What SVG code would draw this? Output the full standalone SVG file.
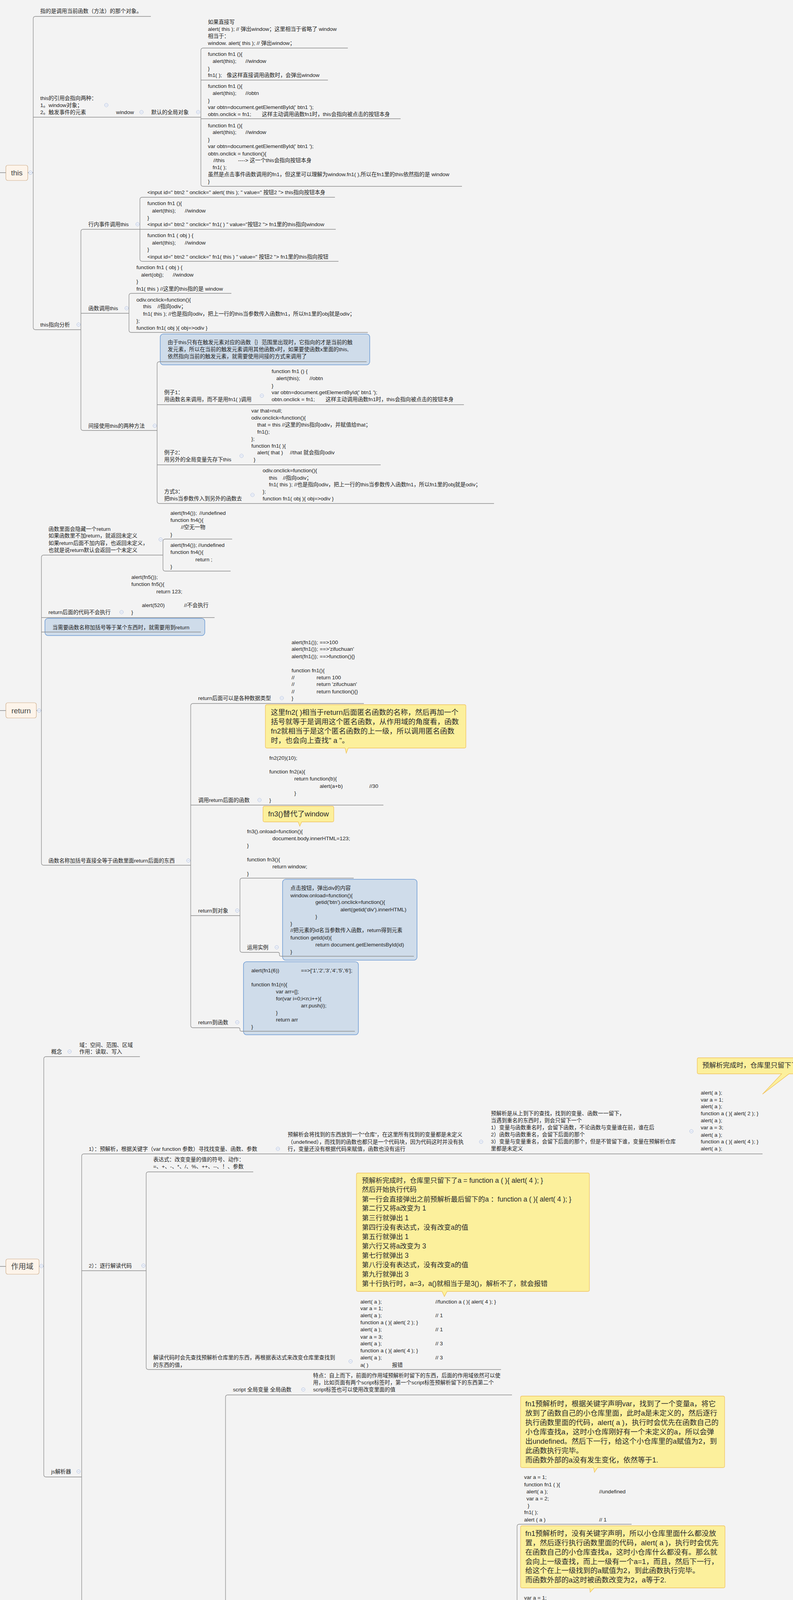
<svg xmlns="http://www.w3.org/2000/svg" width="2029" height="6266" viewBox="0 0 2029 6266">
<style>
text{font-family:"Liberation Sans","Noto Sans CJK SC",sans-serif;fill:#222}
.t{font-size:13.7px}
.cl{font-size:18.5px;fill:#2a2a2a}
.cb{font-size:17.5px;fill:#2a2a2a}
.rt{font-size:19px;fill:#444}
.ln{fill:none;stroke:#8c8c8c;stroke-width:1.3}
.root{fill:#fdf4ea;stroke:#cfae8c;stroke-width:1.2}
.blue{fill:#cfdcea;stroke:#6e9bd3;stroke-width:1.5}
.yel{fill:#fcf09c;stroke:#f0c25c;stroke-width:1.3}
.ci{fill:#f6f7fb;stroke:#a9bbdd;stroke-width:1}
.cm{stroke:#a9bbdd;stroke-width:1}
</style>
<defs>
<g id="col"><circle class="ci" r="4.5"/><line class="cm" x1="-2.5" x2="2.5" y1="0" y2="0"/></g>
</defs>
<rect width="2029" height="6266" fill="#f3f3f3"/>

<g id="n-this"><rect class="root" x="15" y="423" width="56" height="39" rx="5"/><text class="rt" x="43" y="449" text-anchor="middle">this</text></g>
<g id="n-this-def"><text class="t" x="103" y="33">指的是调用当前函数（方法）的那个对象。</text></g>
<g id="n-this-ref"><text class="t" x="103" y="256">this的引用会指向两种：</text><text class="t" x="103" y="274">1。window对象；</text><text class="t" x="103" y="292">2。触发事件的元素</text></g>
<g id="n-window"><text class="t" x="297" y="292">window</text></g>
<g id="n-global"><text class="t" x="387" y="292">默认的全局对象</text></g>
<g id="n-c1"><text class="t" x="532" y="61">如果直接写</text><text class="t" x="532" y="79">alert( this );  // 弹出window；这里相当于省略了 window</text><text class="t" x="532" y="97">相当于：</text><text class="t" x="532" y="115">window. alert( this );  // 弹出window；</text></g>
<g id="n-c2"><text class="t" x="532" y="143">function fn1 (){</text><text class="t" x="544" y="161">alert(this);</text><text class="t" x="628" y="161">//window</text><text class="t" x="532" y="180">}</text><text class="t" x="532" y="197">fn1( );</text><text class="t" x="580" y="197">像这样直接调用函数时，会弹出window</text></g>
<g id="n-c3"><text class="t" x="532" y="225">function fn1 (){</text><text class="t" x="544" y="243">alert(this);</text><text class="t" x="628" y="243">//obtn</text><text class="t" x="532" y="262">}</text><text class="t" x="532" y="279">var obtn=document.getElementById(' btn1 ');</text><text class="t" x="532" y="297">obtn.onclick = fn1;</text><text class="t" x="670" y="297">这样主动调用函数fn1时，this会指向被点击的按钮本身</text></g>
<g id="n-c4"><text class="t" x="532" y="326">function fn1 (){</text><text class="t" x="544" y="343">alert(this);</text><text class="t" x="628" y="343">//window</text><text class="t" x="532" y="362">}</text><text class="t" x="532" y="379">var obtn=document.getElementById(' btn1 ');</text><text class="t" x="532" y="398">obtn.onclick = function(){</text><text class="t" x="546" y="415">//this</text><text class="t" x="609" y="415">----&gt; 这一个this会指向按钮本身</text><text class="t" x="544" y="433">fn1( );</text><text class="t" x="532" y="451">虽然是点击事件函数调用的fn1，但这里可以理解为window.fn1( ),所以在fn1里的this依然指的是 window</text><text class="t" x="532" y="469">}</text></g>
<g id="n-analysis"><text class="t" x="103" y="836">this指向分析</text></g>
<g id="n-inline"><text class="t" x="226" y="579">行内事件调用this</text></g>
<g id="n-inline-1"><text class="t" x="377" y="497">&lt;input  id=" btn2 "  onclick=" alert( this ); " value=" 按钮2 "&gt;  this指向按钮本身</text></g>
<g id="n-inline-2"><text class="t" x="377" y="525">function fn1 (){</text><text class="t" x="389" y="544">alert(this);</text><text class="t" x="473" y="544">//window</text><text class="t" x="377" y="562">}</text><text class="t" x="377" y="579">&lt;input  id=" btn2 "  onclick=" fn1( ) " value="按钮2 "&gt;  fn1里的this指向window</text></g>
<g id="n-inline-3"><text class="t" x="377" y="607">function fn1 ( obj ) {</text><text class="t" x="389" y="626">alert(this);</text><text class="t" x="473" y="626">//window</text><text class="t" x="377" y="643">}</text><text class="t" x="377" y="662">&lt;input  id=" btn2 "  onclick=" fn1( this ) " value=" 按钮2 "&gt;  fn1里的this指向按钮</text></g>
<g id="n-fcall"><text class="t" x="226" y="794">函数调用this</text></g>
<g id="n-fcall-1"><text class="t" x="349" y="689">function fn1 ( obj ) {</text><text class="t" x="361" y="708">alert(obj);</text><text class="t" x="442" y="708">//window</text><text class="t" x="349" y="725">}</text><text class="t" x="349" y="744">fn1( this )  //这里的this指的是 window</text></g>
<g id="n-fcall-2"><text class="t" x="349" y="772">odiv.onclick=function(){</text><text class="t" x="366" y="789">this</text><text class="t" x="403" y="789">//指向odiv；</text><text class="t" x="366" y="808">fn1( this ); //也是指向odiv，把上一行的this当参数传入函数fn1，所以fn1里的obj就是odiv；</text><text class="t" x="349" y="826">};</text><text class="t" x="349" y="844">function fn1( obj ){  obj=&gt;odiv  }</text></g>
<g id="n-indirect"><text class="t" x="226" y="1095">间接使用this的两种方法</text></g>
<g id="n-indirect-note"><rect class="blue" x="410" y="855" width="536" height="79" rx="8"/><text class="t" x="429" y="881">由于this只有在触发元素对应的函数｛｝范围里出现时，它指向的才是当前的触</text><text class="t" x="429" y="899">发元素，所以在当前的触发元素调用其他函数x时，如果要使函数x里面的this,</text><text class="t" x="429" y="917">依然指向当前的触发元素，就需要使用间接的方式来调用了</text></g>
<g id="n-ex1"><text class="t" x="420" y="1009">例子1：</text><text class="t" x="420" y="1027">用函数名来调用，而不是用fn1( )调用</text></g>
<g id="n-ex1-code"><text class="t" x="695" y="955">function fn1 () {</text><text class="t" x="707" y="973">alert(this);</text><text class="t" x="792" y="973">//obtn</text><text class="t" x="695" y="992">}</text><text class="t" x="695" y="1009">var obtn=document.getElementById(' btn1 ');</text><text class="t" x="695" y="1027">obtn.onclick = fn1;</text><text class="t" x="833" y="1027">这样主动调用函数fn1时，this会指向被点击的按钮本身</text></g>
<g id="n-ex2"><text class="t" x="420" y="1163">例子2：</text><text class="t" x="420" y="1181">用另外的全局变量先存下this</text></g>
<g id="n-ex2-code"><text class="t" x="643" y="1056">var  that=null;</text><text class="t" x="643" y="1074">odiv.onclick=function(){</text><text class="t" x="658" y="1092">that = this  //这里的this指向odiv，并赋值给that；</text><text class="t" x="658" y="1110">fn1();</text><text class="t" x="643" y="1128">};</text><text class="t" x="643" y="1146">function fn1( ){</text><text class="t" x="658" y="1163">alert( that )</text><text class="t" x="742" y="1163">//that 就会指向odiv</text><text class="t" x="649" y="1181">}</text></g>
<g id="n-way3"><text class="t" x="420" y="1263">方式3：</text><text class="t" x="420" y="1281">把this当参数传入到另外的函数去</text></g>
<g id="n-way3-code"><text class="t" x="672" y="1209">odiv.onclick=function(){</text><text class="t" x="688" y="1228">this</text><text class="t" x="724" y="1228">//指向odiv；</text><text class="t" x="688" y="1245">fn1( this ); //也是指向odiv，把上一行的this当参数传入函数fn1，所以fn1里的obj就是odiv；</text><text class="t" x="672" y="1263">};</text><text class="t" x="672" y="1281">function fn1( obj ){  obj=&gt;odiv  }</text></g>

<g id="n-return"><rect class="root" x="15" y="1799" width="78" height="39" rx="5"/><text class="rt" x="54" y="1826" text-anchor="middle">return</text></g>
<g id="n-r1"><text class="t" x="124" y="1359">函数里面会隐藏一个return</text><text class="t" x="124" y="1376">如果函数里不加return，就返回未定义</text><text class="t" x="124" y="1395">如果return后面不加内容，也返回未定义，</text><text class="t" x="124" y="1413">也就是说return默认会返回一个未定义</text></g>
<g id="n-r1a"><text class="t" x="436" y="1318">alert(fn4());</text><text class="t" x="510" y="1318">//undefined</text><text class="t" x="436" y="1336">function fn4(){</text><text class="t" x="463" y="1354">//空无一物</text><text class="t" x="436" y="1373">}</text></g>
<g id="n-r1b"><text class="t" x="436" y="1400">alert(fn4());</text><text class="t" x="507" y="1400">//undefined</text><text class="t" x="436" y="1418">function fn4(){</text><text class="t" x="500" y="1437">return ;</text><text class="t" x="436" y="1455">}</text></g>
<g id="n-r2"><text class="t" x="124" y="1572">return后面的代码不会执行</text></g>
<g id="n-r2a"><text class="t" x="336" y="1482">alert(fn5());</text><text class="t" x="336" y="1500">function fn5(){</text><text class="t" x="400" y="1519">return 123;</text><text class="t" x="363" y="1554">alert(520)</text><text class="t" x="471" y="1554">//不会执行</text><text class="t" x="336" y="1572">}</text></g>
<g id="n-r3"><rect class="blue" x="115" y="1583" width="409" height="44" rx="8"/><text class="t" x="134" y="1611">当需要函数名称加括号等于某个东西时，就需要用到return</text></g>
<g id="n-r4"><text class="t" x="124" y="2208">函数名称加括号直接全等于函数里面return后面的东西</text></g>
<g id="n-r4a"><text class="t" x="507" y="1792">return后面可以是各种数据类型</text></g>
<g id="n-r4a-code"><text class="t" x="746" y="1649">alert(fn1());</text><text class="t" x="818" y="1649">==&gt;100</text><text class="t" x="746" y="1666">alert(fn1());</text><text class="t" x="818" y="1666">==&gt;'zifuchuan'</text><text class="t" x="746" y="1685">alert(fn1());</text><text class="t" x="818" y="1685">==&gt;function(){}</text><text class="t" x="746" y="1721">function fn1(){</text><text class="t" x="746" y="1739">//</text><text class="t" x="810" y="1739">return 100</text><text class="t" x="746" y="1756">//</text><text class="t" x="810" y="1756">return 'zifuchuan'</text><text class="t" x="746" y="1775">//</text><text class="t" x="810" y="1775">return function(){}</text><text class="t" x="746" y="1792">}</text></g>
<g id="n-r4b"><text class="t" x="507" y="2053">调用return后面的函数</text></g>
<g id="n-r4b-code"><path class="yel" d="M683,1804 H1188 Q1192,1804 1192,1808 V1911 Q1192,1915 1188,1915 H891 L886,1928 L883,1915 H683 Q679,1915 679,1911 V1808 Q679,1804 683,1804 Z"/><text class="cl" x="693" y="1830">这里fn2( )相当于return后面匿名函数的名称，然后再加一个</text><text class="cl" x="693" y="1854">括号就等于是调用这个匿名函数，从作用域的角度看，函数</text><text class="cl" x="693" y="1878">fn2就相当于是这个匿名函数的上一级，所以调用匿名函数</text><text class="cl" x="693" y="1902">时，也会向上查找" a "。</text>
<text class="t" x="689" y="1945">fn2(20)(10);</text><text class="t" x="689" y="1980">function fn2(a){</text><text class="t" x="753" y="1998">return function(b){</text><text class="t" x="818" y="2017">alert(a+b)</text><text class="t" x="945" y="2017">//30</text><text class="t" x="753" y="2035">}</text><text class="t" x="689" y="2053">}</text></g>
<g id="n-r4c"><text class="t" x="507" y="2336">return到对象</text></g>
<g id="n-fn3"><path class="yel" d="M677,2064 H850 Q854,2064 854,2068 V2100 Q854,2104 850,2104 H772 L767,2115 L763,2104 H677 Q673,2104 673,2100 V2068 Q673,2064 677,2064 Z"/><text class="cl" x="686" y="2090">fn3()替代了window</text>
<text class="t" x="632" y="2133">fn3().onload=function(){</text><text class="t" x="697" y="2151">document.body.innerHTML=123;</text><text class="t" x="632" y="2169">}</text><text class="t" x="632" y="2205">function fn3(){</text><text class="t" x="697" y="2223">return window;</text><text class="t" x="632" y="2241">}</text></g>
<g id="n-use"><text class="t" x="632" y="2430">运用实例</text></g>
<g id="n-use-code"><rect class="blue" x="723" y="2251" width="344" height="207" rx="8"/><text class="t" x="743" y="2278">点击按钮，弹出div的内容</text><text class="t" x="743" y="2297">window.onload=function(){</text><text class="t" x="807" y="2314">getid('btn').onclick=function(){</text><text class="t" x="871" y="2333">alert(getid('div').innerHTML)</text><text class="t" x="807" y="2351">}</text><text class="t" x="743" y="2369">}</text><text class="t" x="743" y="2386">//把元素的id名当参数传入函数，return得到元素</text><text class="t" x="743" y="2405">function getid(id){</text><text class="t" x="807" y="2423">return document.getElementsById(id)</text><text class="t" x="743" y="2441">}</text></g>
<g id="n-r4d"><text class="t" x="507" y="2622">return到函数</text></g>
<g id="n-r4d-code"><rect class="blue" x="623" y="2462" width="294" height="187" rx="8"/><text class="t" x="643" y="2489">alert(fn1(6))</text><text class="t" x="770" y="2489">==&gt;['1','2','3','4','5','6'];</text><text class="t" x="643" y="2525">function fn1(n){</text><text class="t" x="706" y="2543">var arr=[];</text><text class="t" x="706" y="2561">for(var i=0;i&lt;n;i++){</text><text class="t" x="770" y="2579">arr.push(i);</text><text class="t" x="706" y="2597">}</text><text class="t" x="706" y="2615">return arr</text><text class="t" x="643" y="2633">}</text></g>

<g id="n-scope-root"><rect class="root" x="15" y="3223" width="85" height="39" rx="5"/><text class="rt" x="57" y="3249" text-anchor="middle">作用域</text></g>
<g id="n-concept"><text class="t" x="131" y="2697">概念</text></g>
<g id="n-concept-c"><text class="t" x="203" y="2680">域：空间、范围、区域</text><text class="t" x="203" y="2697">作用：读取、写入</text></g>
<g id="n-js"><text class="t" x="131" y="3772">js解析器</text></g>
<g id="n-pre"><text class="t" x="227" y="2946">1）：预解析，根据关键字（var  function  参数）寻找找变量、函数、参数</text></g>
<g id="n-pre-c"><text class="t" x="736" y="2909">预解析会将找到的东西放到一个“仓库”，在这里所有找到的变量都是未定义</text><text class="t" x="736" y="2928">（undefined），而找到的函数也都只是一个代码块，因为代码这时并没有执</text><text class="t" x="736" y="2946">行，变量还没有根据代码来赋值，函数也没有运行</text></g>
<g id="n-pre-cc"><text class="t" x="1256" y="2855">预解析是从上到下的查找，找到的变量、函数一一留下，</text><text class="t" x="1256" y="2873">当遇到重名的东西时，则会只留下一个</text><text class="t" x="1256" y="2891">1）变量与函数重名时，会留下函数，不论函数与变量谁在前，谁在后</text><text class="t" x="1256" y="2909">2）函数与函数重名，会留下后面的那个</text><text class="t" x="1256" y="2927">3）变量与变量重名，会留下后面的那个，但是不管留下谁，变量在预解析仓库</text><text class="t" x="1256" y="2945">里都是未定义</text></g>
<g id="n-pre-code"><path class="yel" d="M1788,2708 H2060 V2749 H2019 L1951,2801 L2000,2749 H1788 Q1784,2749 1784,2745 V2712 Q1784,2708 1788,2708 Z"/><text class="cb" x="1797" y="2733">预解析完成时，仓库里只留下了a = function a ( ){ alert( 4 ); }</text>
<text class="t" x="1793" y="2802">alert( a );</text><text class="t" x="1793" y="2820">var  a = 1;</text><text class="t" x="1793" y="2837">alert( a );</text><text class="t" x="1793" y="2855">function  a  ( ){ alert( 2 ); }</text><text class="t" x="1793" y="2873">alert( a );</text><text class="t" x="1793" y="2891">var  a = 3;</text><text class="t" x="1793" y="2910">alert( a );</text><text class="t" x="1793" y="2927">function  a  ( ){ alert( 4 ); }</text><text class="t" x="1793" y="2945">alert( a );</text></g>
<g id="n-read"><text class="t" x="227" y="3245">2）：逐行解读代码</text></g>
<g id="n-expr"><text class="t" x="392" y="2973">表达式：改变变量的值的符号、动作：</text><text class="t" x="392" y="2991">=、+、-、*、/、%、++、--、！、参数</text></g>
<g id="n-interp"><text class="t" x="392" y="3480">解读代码时会先查找预解析仓库里的东西，再根据表达式来改变仓库里查找到</text><text class="t" x="392" y="3499">的东西的值，</text></g>
<g id="n-interp-c"><path class="yel" d="M916,3003 H1504 Q1508,3003 1508,3007 V3302 Q1508,3306 1504,3306 H1144 L1137,3319 L1131,3306 H916 Q912,3306 912,3302 V3007 Q912,3003 916,3003 Z"/>
<text class="cb" x="926" y="3028">预解析完成时，仓库里只留下了a = function a ( ){ alert( 4 ); }</text><text class="cb" x="926" y="3051">然后开始执行代码</text><text class="cb" x="926" y="3076">第一行会直接弹出之前预解析最后留下的a ：function a ( ){ alert( 4 ); }</text><text class="cb" x="926" y="3099">第二行又将a改变为 1</text><text class="cb" x="926" y="3124">第三行就弹出 1</text><text class="cb" x="926" y="3148">第四行没有表达式，没有改变a的值</text><text class="cb" x="926" y="3172">第五行就弹出 1</text><text class="cb" x="926" y="3196">第六行又将a改变为 3</text><text class="cb" x="926" y="3220">第七行就弹出 3</text><text class="cb" x="926" y="3244">第八行没有表达式，没有改变a的值</text><text class="cb" x="926" y="3268">第九行就弹出 3</text><text class="cb" x="926" y="3292">第十行执行时，a=3，a()就相当于是3()，解析不了，就会报错</text>
<text class="t" x="922" y="3337">alert( a );</text><text class="t" x="922" y="3354">var  a = 1;</text><text class="t" x="922" y="3372">alert( a );</text><text class="t" x="922" y="3390">function  a  ( ){ alert( 2 ); }</text><text class="t" x="922" y="3408">alert( a );</text><text class="t" x="922" y="3427">var  a = 3;</text><text class="t" x="922" y="3444">alert( a );</text><text class="t" x="922" y="3462">function  a  ( ){ alert( 4 ); }</text><text class="t" x="922" y="3480">alert( a );</text><text class="t" x="922" y="3499">a( )</text><text class="t" x="1003" y="3499">报错</text>
<text class="t" x="1114" y="3337">//function  a  ( ){ alert( 4 ); }</text><text class="t" x="1114" y="3372">// 1</text><text class="t" x="1114" y="3408">//  1</text><text class="t" x="1114" y="3444">// 3</text><text class="t" x="1114" y="3480">// 3</text></g>
<g id="n-scope"><text class="t" x="227" y="4600">作用域与预解析</text></g>
<g id="n-kinds"><text class="t" x="371" y="4581">几种作用域的范围</text><text class="t" x="371" y="4600">特点 :先预解析，再逐行执行</text></g>
<g id="n-script"><text class="t" x="596" y="3562">script  全局变量  全局函数</text></g>
<g id="n-script-c"><text class="t" x="801" y="3526">特点：自上而下，前面的作用域预解析时留下的东西，后面的作用域依然可以使</text><text class="t" x="801" y="3544">用，比如页面有两个script标签时，第一个script标签预解析留下的东西第二个</text><text class="t" x="801" y="3562">script标签也可以使用改变里面的值</text></g>
<g id="n-func"><text class="t" x="595" y="4847">函数的{ }</text><text class="t" x="595" y="4865">函数的内部也是一个作用域</text></g>
<g id="n-func-run"><text class="t" x="811" y="4326">当函数运行，第一步预解析函数里面的区域，将变量、函数放到预解析仓库，</text><text class="t" x="811" y="4344">这个仓库是一个只为这个函数所用的仓库，函数外部不能直接访问与获取这里</text><text class="t" x="811" y="4362">面的东西（可以间接获取到），所以函数里面的东西即使与函数外部的东西重</text><text class="t" x="811" y="4380">名也不会互相干涉，两个井水不犯河水。</text><text class="t" x="811" y="4398">而当函数预解析完成，开始逐行执行代码时，会优先在自己的小仓库查找需要</text><text class="t" x="811" y="4416">的东西（变量、函数等），如果没有找到，就会往上一级查找，也就是说</text><text class="t" x="811" y="4434">函数里面的表达式可以直接访问、获取到函数外部的东西，而函数外部的表达</text><text class="t" x="811" y="4452">式则无法直接访问与获取函数里面的东西。</text></g>
<g id="n-case1"><path class="yel" d="M1336,3574 H1850 Q1854,3574 1854,3578 V3753 Q1854,3757 1850,3757 H1529 L1521,3769 L1519,3757 H1336 Q1332,3757 1332,3753 V3578 Q1332,3574 1336,3574 Z"/>
<text class="cl" x="1344" y="3600">fn1预解析时，根据关键字声明var，找到了一个变量a，将它</text><text class="cl" x="1344" y="3624">放到了函数自己的小仓库里面，此时a是未定义的，然后逐行</text><text class="cl" x="1344" y="3648">执行函数里面的代码，alert( a )，执行时会优先在函数自己的</text><text class="cl" x="1344" y="3672">小仓库查找a，这时小仓库刚好有一个未定义的a，所以会弹</text><text class="cl" x="1344" y="3696">出undefined。然后下一行，给这个小仓库里的a赋值为2，到</text><text class="cl" x="1344" y="3720">此函数执行完毕。</text><text class="cl" x="1344" y="3744">而函数外部的a没有发生变化，依然等于1.</text>
<text class="t" x="1341" y="3786">var  a = 1;</text><text class="t" x="1341" y="3805">function  fn1 ( ){</text><text class="t" x="1347" y="3823">alert( a );</text><text class="t" x="1533" y="3823">//undefined</text><text class="t" x="1347" y="3841">var  a = 2;</text><text class="t" x="1350" y="3859">}</text><text class="t" x="1341" y="3876">fn1( );</text><text class="t" x="1341" y="3895">alert ( a )</text><text class="t" x="1533" y="3895">// 1</text></g>
<g id="n-case2"><path class="yel" d="M1336,3906 H1851 Q1855,3906 1855,3910 V4061 Q1855,4065 1851,4065 H1520 L1510,4076 L1509,4065 H1336 Q1332,4065 1332,4061 V3910 Q1332,3906 1336,3906 Z"/>
<text class="cl" x="1344" y="3932">fn1预解析时，没有关键字声明，所以小仓库里面什么都没放</text><text class="cl" x="1344" y="3956">置，然后逐行执行函数里面的代码，alert( a )，执行时会优先</text><text class="cl" x="1344" y="3980">在函数自己的小仓库查找a，这时小仓库什么都没有。那么就</text><text class="cl" x="1344" y="4004">会向上一级查找，而上一级有一个a=1，而且，然后下一行，</text><text class="cl" x="1344" y="4027">给这个在上一级找到的a赋值为2，到此函数执行完毕。</text><text class="cl" x="1344" y="4051">而函数外部的a这时被函数改变为2，a等于2.</text>
<text class="t" x="1341" y="4095">var  a = 1;</text><text class="t" x="1341" y="4113">function  fn1 ( ){</text><text class="t" x="1347" y="4131">alert( a );</text><text class="t" x="1533" y="4131">//1</text><text class="t" x="1347" y="4148">a = 2;</text><text class="t" x="1350" y="4166">}</text><text class="t" x="1341" y="4184">fn1( );</text><text class="t" x="1341" y="4203">alert ( a )</text><text class="t" x="1533" y="4203">// 2</text></g>
<g id="n-case3"><path class="yel" d="M1336,4213 H1850 Q1854,4213 1854,4217 V4418 Q1854,4422 1850,4422 H1526 L1517,4433 L1515,4422 H1336 Q1332,4422 1332,4418 V4217 Q1332,4213 1336,4213 Z"/>
<text class="cl" x="1344" y="4239">fn1预解析时，会找到一个参数a，而参数本质上就是一个声</text><text class="cl" x="1344" y="4263">明了的局部变量</text><text class="cl" x="1344" y="4287">于是将它放到了函数自己的小仓库里面，此时a是未定义的，</text><text class="cl" x="1344" y="4311">然后逐行执行函数里面的代码，alert( a )，执行时会优先在函</text><text class="cl" x="1344" y="4335">数自己的小仓库查找a，这时小仓库刚好有一个未定义的a，</text><text class="cl" x="1344" y="4359">所以会弹出undefined。然后下一行，给这个小仓库里的a赋</text><text class="cl" x="1344" y="4383">值为2，到此函数执行完毕。</text><text class="cl" x="1344" y="4407">而函数外部的a没有发生变化，依然等于1.</text>
<text class="t" x="1341" y="4451">var  a = 1;</text><text class="t" x="1341" y="4469">function  fn1 ( a ) {</text><text class="t" x="1347" y="4486">alert( a );</text><text class="t" x="1533" y="4486">//undefined</text><text class="t" x="1347" y="4505">a = 2;</text><text class="t" x="1350" y="4523">}</text><text class="t" x="1341" y="4540">fn1( );</text><text class="t" x="1341" y="4558">alert ( a )</text><text class="t" x="1533" y="4558">// 1</text></g>
<g id="n-case4"><path class="yel" d="M1336,4570 H1850 Q1854,4570 1854,4574 V4821 Q1854,4825 1850,4825 H1647 L1658,4886 L1639,4825 H1336 Q1332,4825 1332,4821 V4574 Q1332,4570 1336,4570 Z"/>
<text class="cl" x="1344" y="4596">fn1预解析时，会找到一个参数a，而参数本质上就是一个声</text><text class="cl" x="1344" y="4620">明了的局部变量（也就是说，函数里面的只要是与参数同名</text><text class="cl" x="1344" y="4644">的，都只是在访问或调用参数这个局部变量，而与外部重名</text><text class="cl" x="1344" y="4667">的变量无任何关系）</text><text class="cl" x="1344" y="4692">于是将它放到了函数自己的小仓库里面，此时a是未定义的，</text><text class="cl" x="1344" y="4716">然后逐行执行函数里面的代码，alert( a )，执行时会优先在函</text><text class="cl" x="1344" y="4740">数自己的小仓库查找a，这时小仓库刚好有一个未定义的a，</text><text class="cl" x="1344" y="4764">所以会弹出undefined。然后下一行，给这个小仓库里的a赋</text><text class="cl" x="1344" y="4787">值为2，到此函数执行完毕。</text><text class="cl" x="1344" y="4812">而函数外部的a没有发生变化，依然等于1.</text>
<text class="t" x="1341" y="4903">var  a = 1;</text><text class="t" x="1341" y="4920">function  fn1 ( a ) {</text><text class="t" x="1476" y="4920">//有参数时，函数会从这一行开始逐行执行，这里的这一行相当fn1（var a=1）{。。。}</text><text class="t" x="1347" y="4939">alert( a );</text><text class="t" x="1661" y="4939">// 1</text><text class="t" x="1347" y="4957">var  a = 2;</text><text class="t" x="1350" y="4974">}</text><text class="t" x="1341" y="4992">fn1( a );</text><text class="t" x="1449" y="4992">//这里的a是调用前面的全局变量a，此时a=1，相当于将1传入函数</text><text class="t" x="1341" y="5010">alert ( a )</text><text class="t" x="1661" y="5010">// 1</text></g>
<g id="n-indirect2"><text class="t" x="811" y="5278">在函数外面间接获取函数里面的变量</text></g>
<g id="n-fish"><text class="t" x="1083" y="5182"><tspan fill="#c0601a">1</tspan>.钓鱼法：在函数外面设置鱼钩，钓出函数里的东西</text></g>
<g id="n-fish-code"><rect class="blue" x="1442" y="5022" width="286" height="187" rx="8"/><text class="t" x="1462" y="5067">var  str='';</text><text class="t" x="1570" y="5067">//设置鱼钩</text><text class="t" x="1462" y="5085">function fn1(){</text><text class="t" x="1468" y="5102">var a = "大鱼-"</text><text class="t" x="1568" y="5102">//鱼儿</text><text class="t" x="1468" y="5120">str=a;</text><text class="t" x="1570" y="5120">//鱼儿咬钩</text><text class="t" x="1462" y="5138">}</text><text class="t" x="1462" y="5156">fn1()</text><text class="t" x="1462" y="5175">alert( str );</text><text class="t" x="1598" y="5175">//拉线，得到鱼儿</text></g>
<g id="n-portal"><text class="t" x="1083" y="5357">2.传送门：在函数X里面直接调用函数外面的另一个函数Y，将函数X里面的变量</text><text class="t" x="1083" y="5375">当参数传入外面的函数Y，这时Y就得到了函数X里面的变量的值。</text></g>
<g id="n-portal-code"><rect class="blue" x="1608" y="5214" width="211" height="187" rx="8"/><text class="t" x="1627" y="5259">function fn2(){</text><text class="t" x="1654" y="5277">var a=' 999克拉钻石 ';</text><text class="t" x="1690" y="5295">fn3( a )</text><text class="t" x="1627" y="5312">}</text><text class="t" x="1627" y="5330">fn2();</text><text class="t" x="1627" y="5348">function fn3( a ){</text><text class="t" x="1690" y="5366">alert( a )</text><text class="t" x="1627" y="5385">}</text></g>
<g id="n-forif"><text class="t" x="596" y="5638">for与if的{ }</text></g>
<g id="n-through"><path class="yel" d="M702,5406 H1212 Q1216,5406 1216,5410 V5465 Q1216,5469 1212,5469 H896 L873,5482 L880,5469 H702 Q698,5469 698,5465 V5410 Q698,5406 702,5406 Z"/><text class="cl" x="711" y="5432">火狐浏览器预解析时，解析不到if下的{}里的函数，其他浏览</text><text class="cl" x="711" y="5456">器都可以</text>
<text class="t" x="706" y="5499">这两种情况都不能构成作用域，它们是通透的</text></g>
<g id="n-for"><text class="t" x="707" y="5778">for</text></g>
<g id="n-for-c"><text class="t" x="768" y="5706">如果在for里面又包了一个函数，在这个函数里不能直接使用i，因为在这个函数</text><text class="t" x="768" y="5724">执行之前，for先循环完成，然后for里面的函数才会开始预解析并执行代码，for</text><text class="t" x="768" y="5742">声明的变量i在完成循环后已经是一个固定的值，等于循环的次数。如果函数里</text><text class="t" x="768" y="5760">面没有重新声明 i，那么，函数里面直接调用 i时，得到的 i 就是从上一级找到的</text><text class="t" x="768" y="5778">for循环里的 i，但这时，这个 i 已经是一个固定值了。</text></g>
<g id="n-for-code"><rect class="blue" x="1300" y="5510" width="510" height="294" rx="8"/><text class="t" x="1320" y="5536">window.onload=function(){</text><text class="t" x="1320" y="5554">//有三个按钮，点击任何一个，三个一起变为蓝色；</text><text class="t" x="1329" y="5572">var abtn=document.getElementsByTagName('input');</text><text class="t" x="1329" y="5590">for(var i=0;i&lt;abtn.length;i++){</text><text class="t" x="1335" y="5609">abtn[i].onclick=function(){</text><text class="t" x="1347" y="5627">alert(i)</text><text class="t" x="1399" y="5627">//3（如果下面没有重新声明 i ，如果有，则会弹出undefined）</text><text class="t" x="1347" y="5644">abtn[i].style.background='blue'；</text><text class="t" x="1347" y="5663">//这条相当于是abtn[3].style.background='blue'，所以点击无效；</text><text class="t" x="1347" y="5681">//下面是正确写法，重新声明i</text><text class="t" x="1353" y="5699">for(var i=0;i&lt;abtn.length;i++){</text><text class="t" x="1368" y="5717">abtn[i].style.background='blue'</text><text class="t" x="1353" y="5735">}</text><text class="t" x="1342" y="5752">}</text><text class="t" x="1333" y="5771">}</text><text class="t" x="1321" y="5788">}</text></g>

<g id="n-args-root"><rect class="root" x="15" y="6026" width="220" height="40" rx="5"/><text class="rt" x="28" y="6053">arguments : 实参与形参</text></g>
<g id="n-actual"><text class="t" x="267" y="5835">实参：实际传入的参数</text></g>
<g id="n-formal"><text class="t" x="267" y="5899">形参：函数书写中用来代表实参的形式参数</text></g>
<g id="n-formal-code"><text class="t" x="582" y="5863">fn1(1,2,3);</text><text class="t" x="744" y="5863">//实际传入的参数；</text><text class="t" x="582" y="5881">function fn1(a,b,c){</text><text class="t" x="718" y="5881">//形式上a，b，c这些名代表了1,2,3</text><text class="t" x="582" y="5900">}</text></g>
<g id="n-args"><path class="yel" d="M262,5911 H741 Q745,5911 745,5915 V5947 Q745,5951 741,5951 H498 L484,5999 L488,5951 H262 Q258,5951 258,5947 V5915 Q258,5911 262,5911 Z"/><text class="cl" x="270" y="5938">当需要传入的实参个数不确定时，就需要用到arguments</text>
<text class="t" x="267" y="6016">arguments:</text><text class="t" x="267" y="6034">函数里面自带的</text><text class="t" x="267" y="6052">是一个实参的集合，与数组类似，但不是数组，</text><text class="t" x="267" y="6070">如果不写形参，实参也能传进函数，并存在arguments这个集合里</text></g>
<g id="n-args-code"><text class="t" x="720" y="5981">fn1(1,2,3);</text><text class="t" x="720" y="5998">function fn1(){</text><text class="t" x="784" y="6016">alert(arguments)</text><text class="t" x="912" y="6016">// ==&gt;[1,2,3]</text><text class="t" x="784" y="6034">alert(arguments.length)</text><text class="t" x="976" y="6034">//==&gt; 3</text><text class="t" x="784" y="6052">alert(arguments[0])</text><text class="t" x="976" y="6052">// ==&gt;1</text><text class="t" x="720" y="6070">}</text></g>
<g id="n-argscope"><text class="t" x="267" y="6224">arguments与作用域：</text><text class="t" x="267" y="6242">arguments既能读取参数，也能改变参数</text></g>
<g id="n-argscope-code"><text class="t" x="562" y="6098">var a=1;</text><text class="t" x="562" y="6116">function fn2(a){</text><text class="t" x="590" y="6135">arguments[0]=3;</text><text class="t" x="724" y="6135">//a被赋值为3</text><text class="t" x="626" y="6153">alert(a);</text><text class="t" x="818" y="6153">//3</text><text class="t" x="590" y="6171">var a=2;</text><text class="t" x="697" y="6171">//a被声明并赋值为2</text><text class="t" x="626" y="6189">alert(arguments[0])</text><text class="t" x="754" y="6189">//2</text><text class="t" x="562" y="6207">}</text><text class="t" x="562" y="6224">fn2(a);</text><text class="t" x="562" y="6242">alert(a)</text><text class="t" x="818" y="6242">//1</text></g>

<g id="connectors" class="ln">
<path d="M0,442 H15 M71,442 H85 M0,1819 H15 M93,1819 H106 M0,3242 H15 M100,3242 H112 M0,6046 H15 M235,6046 H249"/>
<path d="M386,42 H91 Q85,42 85,48 V838 Q85,844 91,844 H207"/>
<path d="M85,300 H514"/>
<path d="M890,123 H520 Q514,123 514,129 V471 Q514,477 520,477 H1182 M514,205 H839 M514,304 H1025"/>
<path d="M358,587 H213 Q207,587 207,593 V1096 Q207,1102 213,1102 H402 M207,802 H330 M358,587 H859"/>
<path d="M857,505 H364 Q358,505 358,511 V663 Q358,669 364,669 H866"/>
<path d="M592,751 H336 Q330,751 330,757 V845 Q330,851 336,851 H941"/>
<path d="M938,926 H408 Q402,926 402,932 V1283 Q402,1289 408,1289 H1264 M402,1036 H1187 M402,1190 H974"/>
<path d="M417,1421 H112 Q106,1421 106,1427 V2209 Q106,2215 112,2215 H488 M106,1581 H549 M106,1618 H514"/>
<path d="M594,1380 H423 Q417,1380 417,1386 V1456 Q417,1462 423,1462 H590"/>
<path d="M931,1801 H494 Q488,1801 488,1807 V2625 Q488,2631 494,2631 H610 Q614,2631 614,2635 V2636 Q614,2640 618,2640 H908 M488,2061 H981 M488,2344 H614"/>
<path d="M905,2248 H620 Q614,2248 614,2254 V2432 Q614,2438 620,2438 H711 Q715,2438 715,2442 V2444 Q715,2448 719,2448 H1059"/>
<path d="M358,2705 H118 Q112,2705 112,2711 V3775 Q112,3781 118,3781 H209"/>
<path d="M1951,2954 H215 Q209,2954 209,2960 V4602 Q209,4608 215,4608 H577 M209,3253 H374"/>
<path d="M648,3000 H380 Q374,3000 374,3006 V3500 Q374,3506 380,3506 H1282"/>
<path d="M1310,3571 H583 Q577,3571 577,3577 V5640 Q577,5646 583,5646 H689 M577,4873 H793"/>
<path d="M1323,4461 H799 Q793,4461 793,4467 V5280 Q793,5286 799,5286 H1065"/>
<path d="M1616,3902 H1329 Q1323,3902 1323,3908 V5012 Q1323,5018 1329,5018 H2029 M1323,4210 H1566 M1323,4566 H1616"/>
<path d="M1718,5200 H1437 Q1433,5200 1433,5196 V5194 Q1433,5190 1429,5190 H1071 Q1065,5190 1065,5196 V5376 Q1065,5382 1071,5382 H1594 Q1598,5382 1598,5386 V5388 Q1598,5392 1602,5392 H1810"/>
<path d="M1005,5506 H695 Q689,5506 689,5512 V5780 Q689,5786 695,5786 H1288 Q1292,5786 1292,5790 V5792 Q1292,5796 1296,5796 H1801"/>
<path d="M423,5843 H255 Q249,5843 249,5849 V6244 Q249,6250 255,6250 H847 M249,5907 H945 M249,6078 H1029"/>
</g>

<g id="collapse-buttons">
<use href="#col" x="78" y="442"/><use href="#col" x="272" y="269"/><use href="#col" x="362" y="287"/><use href="#col" x="507" y="287"/><use href="#col" x="201" y="831"/><use href="#col" x="352" y="574"/><use href="#col" x="324" y="789"/><use href="#col" x="396" y="1090"/><use href="#col" x="670" y="1013"/><use href="#col" x="618" y="1167"/><use href="#col" x="646" y="1267"/>
<use href="#col" x="100" y="1819"/><use href="#col" x="411" y="1381"/><use href="#col" x="311" y="1567"/><use href="#col" x="482" y="2203"/><use href="#col" x="721" y="1787"/><use href="#col" x="664" y="2048"/><use href="#col" x="607" y="2331"/><use href="#col" x="708" y="2425"/><use href="#col" x="607" y="2617"/>
<use href="#col" x="106" y="3241"/><use href="#col" x="178" y="2692"/><use href="#col" x="201" y="3767"/><use href="#col" x="711" y="2941"/><use href="#col" x="1231" y="2923"/><use href="#col" x="1769" y="2896"/><use href="#col" x="367" y="3240"/><use href="#col" x="897" y="3485"/><use href="#col" x="347" y="4595"/><use href="#col" x="571" y="4586"/><use href="#col" x="776" y="3557"/><use href="#col" x="786" y="4851"/><use href="#col" x="1316" y="4384"/><use href="#col" x="1058" y="5273"/><use href="#col" x="1427" y="5177"/><use href="#col" x="1592" y="5361"/><use href="#col" x="682" y="5633"/><use href="#col" x="743" y="5773"/><use href="#col" x="1285" y="5739"/>
<use href="#col" x="242" y="6046"/><use href="#col" x="557" y="5894"/><use href="#col" x="695" y="6038"/><use href="#col" x="537" y="6228"/>
</g>
</svg>
